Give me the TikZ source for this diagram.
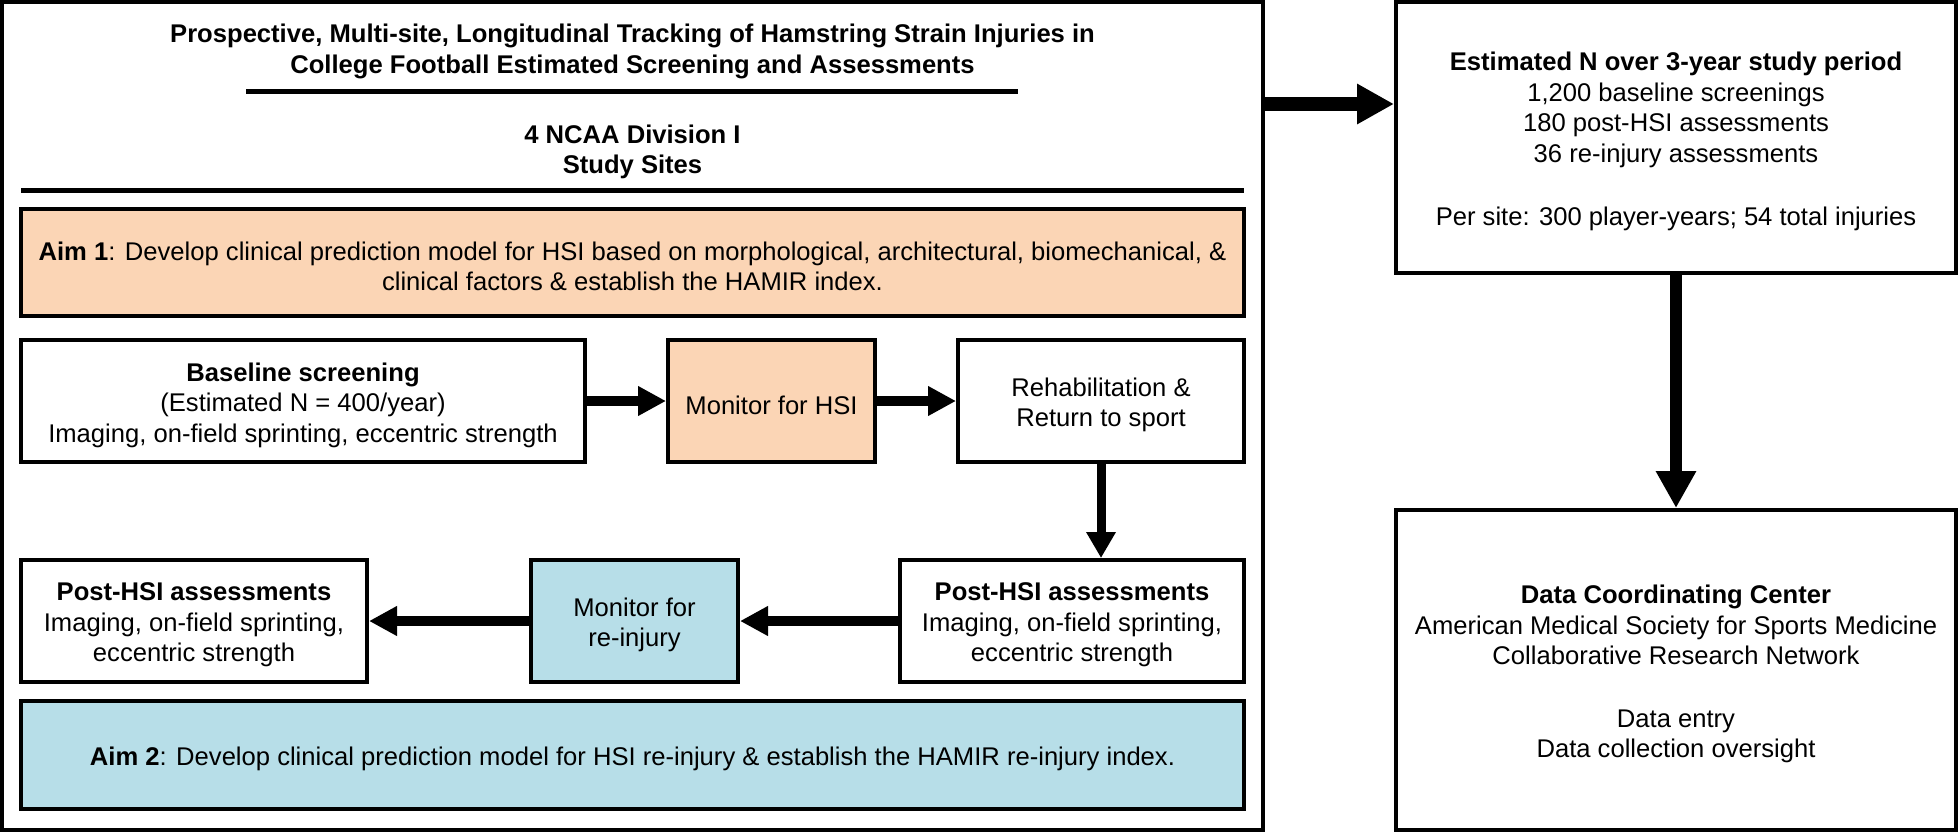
\documentclass[tikz,border=0pt]{standalone}
\usepackage{fontspec}
\setmainfont{Liberation Sans}
\usetikzlibrary{arrows.meta}
\definecolor{peach}{HTML}{FBD5B5}
\definecolor{aqua}{HTML}{B7DEE8}
\tikzset{
  txt/.style={font=\fontsize{12.8bp}{15.25bp}\selectfont, align=center, inner sep=0pt, yshift=-2bp},
  box/.style={draw=black, line width=2bp, fill=white, inner sep=0pt},
  rulel/.style={line width=2.5bp},
  bigarrow/.style={line width=7bp, -{Triangle[length=18.5bp, width=19bp]}},
  bigvarrow/.style={line width=6bp, -{Triangle[length=18.5bp, width=19bp]}},
  smallarrow/.style={line width=5bp, -{Triangle[length=14bp, width=14bp]}},
  smallvarrow/.style={line width=4.5bp, -{Triangle[length=13bp, width=14bp]}},
}
\begin{document}
\begin{tikzpicture}[x=0.5bp, y=-0.5bp]
\useasboundingbox[fill=white] (0,0) rectangle (1960,833);
% outer frame
\node[box, fill=none, minimum width=1261*0.5bp, minimum height=828*0.5bp] (outer) at (632.5,416) {};
\node[txt, font=\fontsize{12.8bp}{15.5bp}\selectfont\bfseries] (title) at (632.5,47.5)
  {Prospective, Multi-site, Longitudinal Tracking of Hamstring Strain Injuries in\\College Football Estimated Screening and Assessments};
\draw[rulel] (246,91) -- (1018,91);
\node[txt, font=\fontsize{12.8bp}{15bp}\selectfont\bfseries] (sites) at (632.5,148) {4 NCAA Division I\\Study Sites};
\draw[rulel] (21,190) -- (1244,190);
% boxes
\node[box, fill=peach, minimum width=1223*0.5bp, minimum height=107*0.5bp] (aim1) at (632.5,262.5) {};
\node[box, minimum width=564*0.5bp, minimum height=122*0.5bp] (base) at (303,401) {};
\node[box, fill=peach, minimum width=207*0.5bp, minimum height=122*0.5bp] (mon1) at (771.5,401) {};
\node[box, minimum width=286*0.5bp, minimum height=122*0.5bp] (rehab) at (1101,401) {};
\node[box, minimum width=346*0.5bp, minimum height=122*0.5bp] (post2) at (194,621) {};
\node[box, fill=aqua, minimum width=207*0.5bp, minimum height=122*0.5bp] (mon2) at (634.5,621) {};
\node[box, minimum width=344*0.5bp, minimum height=122*0.5bp] (post1) at (1072,621) {};
\node[box, fill=aqua, minimum width=1223*0.5bp, minimum height=108*0.5bp] (aim2) at (632.5,755) {};
\node[box, minimum width=560*0.5bp, minimum height=271*0.5bp] (est) at (1676,137.5) {};
\node[box, minimum width=560*0.5bp, minimum height=320*0.5bp] (dcc) at (1676,670) {};
% texts
\node[txt] (aim1-t) at (aim1) {\textbf{Aim 1}: Develop clinical prediction model for HSI based on morphological, architectural, biomechanical, \&\\clinical factors \& establish the HAMIR index.};
\node[txt] (base-t) at (base) {\textbf{Baseline screening}\\(Estimated N = 400/year)\\Imaging, on-field sprinting, eccentric strength};
\node[txt] (mon1-t) at (mon1) {Monitor for HSI};
\node[txt] (rehab-t) at (rehab) {Rehabilitation \&\\Return to sport};
\node[txt] (post2-t) at (post2) {\textbf{Post-HSI assessments}\\Imaging, on-field sprinting,\\eccentric strength};
\node[txt] (mon2-t) at (mon2) {Monitor for\\re-injury};
\node[txt] (post1-t) at (post1) {\textbf{Post-HSI assessments}\\Imaging, on-field sprinting,\\eccentric strength};
\node[txt] (aim2-t) at (aim2) {\textbf{Aim 2}: Develop clinical prediction model for HSI re-injury \& establish the HAMIR re-injury index.};
\node[txt] (est-t) at (est) {\textbf{Estimated N over 3-year study period}\\1,200 baseline screenings\\180 post-HSI assessments\\36 re-injury assessments\\[16.5bp]Per site: 300 player-years; 54 total injuries};
\node[txt] (dcc-t) at (dcc) {\textbf{Data Coordinating Center}\\American Medical Society for Sports Medicine\\Collaborative Research Network\\[16bp]Data entry\\Data collection oversight};
% connectors
\coordinate (hy) at (0,104);
\draw[bigarrow] (outer.east |- hy) -- (est.west |- hy);
\draw[bigvarrow] (est.south) -- (dcc.north);
\draw[smallarrow] (base.east) -- (mon1.west);
\draw[smallarrow] (mon1.east) -- (rehab.west);
\draw[smallvarrow] (rehab.south) -- (rehab.south |- post1.north);
\draw[smallarrow] (post1.west) -- (mon2.east);
\draw[smallarrow] (mon2.west) -- (post2.east);
\end{tikzpicture}
\end{document}
